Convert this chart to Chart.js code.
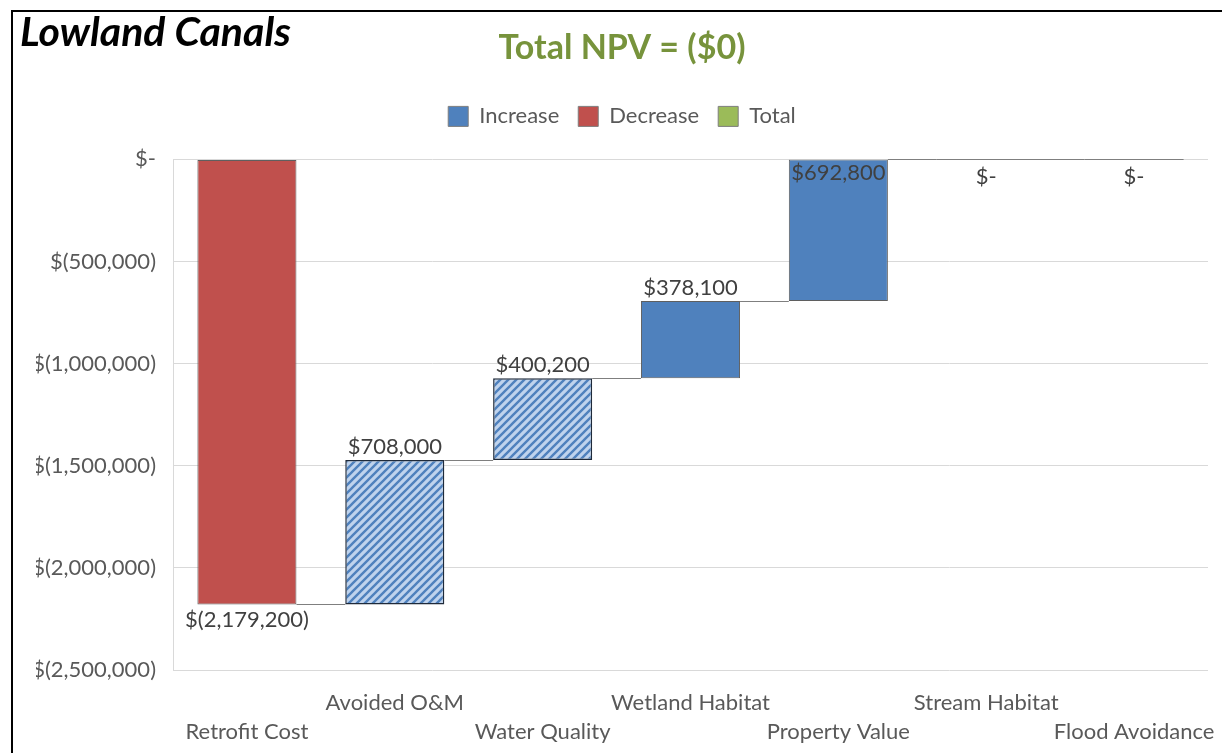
<!DOCTYPE html>
<html>
<head>
<meta charset="utf-8">
<title>Lowland Canals</title>
<script src="https://cdn.jsdelivr.net/npm/chart.js@4.4.1/dist/chart.umd.min.js"></script>
<style>
  html, body { margin: 0; padding: 0; background: #fff; overflow: hidden; }
  #frame { position: absolute; left: 11px; top: 10px; width: 1300px; height: 800px; border-top: 2px solid #000; border-left: 2px solid #000; }
  #wrap { position: absolute; left: 0; top: 0; width: 1222px; height: 753px; }
</style>
</head>
<body>
<div id="frame"></div>
<div id="wrap"><canvas id="chart" width="1222" height="753"></canvas></div>
<script>
// NPV components, in dollars
const categories = ['Retrofit Cost', 'Avoided O&M', 'Water Quality', 'Wetland Habitat', 'Property Value', 'Stream Habitat', 'Flood Avoidance'];
const changes = [-2179200, 708000, 400200, 378100, 692800, 0, 0];
const hatched = [false, true, true, false, false, false, false];

const legendNames = ['Increase', 'Decrease', 'Total'];
const legendColors = ['#4f81bd', '#c0504d', '#9bbb59'];

const yMin = -2500000;
const yMax = 0;
const yStep = 500000;

const barPct = 0.67;
const FONT = 'Lato, "Open Sans", sans-serif';

// running totals for the waterfall
const starts = [];
const ends = [];
let run = 0;
changes.forEach(v => { starts.push(run); run += v; ends.push(run); });

function money(v) {
  v = Math.round(v);
  if (v === 0) return '$-';
  const s = Math.abs(v).toLocaleString('en-US');
  return v < 0 ? '$(' + s + ')' : '$' + s;
}

function npvText(v) {
  const k = Math.round(Math.abs(v) / 1000);
  return v < 0 ? '($' + k + ')' : '$' + k;
}

// diagonal hatch used for the avoided-cost style bars
function makeHatch() {
  const c = document.createElement('canvas');
  const s = 8;
  c.width = s; c.height = s;
  const g = c.getContext('2d');
  g.fillStyle = '#bfd3ed';
  g.fillRect(0, 0, s, s);
  g.strokeStyle = '#4f81bd';
  g.lineWidth = 2.4;
  g.beginPath();
  g.moveTo(-1, s + 1); g.lineTo(s + 1, -1);
  g.moveTo(-2, 2); g.lineTo(2, -2);
  g.moveTo(s - 2, s + 2); g.lineTo(s + 2, s - 2);
  g.stroke();
  return document.getElementById('chart').getContext('2d').createPattern(c, 'repeat');
}
const hatch = makeHatch();

const increaseData = changes.map((v, i) => v >= 0 ? [starts[i], ends[i]] : null);
const decreaseData = changes.map((v, i) => v < 0 ? [starts[i], ends[i]] : null);
const totalData = changes.map(() => null);

// thin lines joining the end of one bar to the start of the next
const connectorLines = {
  id: 'connectorLines',
  afterDatasetsDraw(chart) {
    const { ctx, scales: { x, y } } = chart;
    const half = (x.getPixelForValue(1) - x.getPixelForValue(0)) * barPct / 2;
    ctx.save();
    ctx.strokeStyle = '#7f7f7f';
    ctx.lineWidth = 1;
    ctx.beginPath();
    for (let i = 0; i < categories.length; i++) {
      const level = Math.round(y.getPixelForValue(ends[i])) + 0.5;
      const xa = changes[i] === 0 ? x.getPixelForValue(i) - half : x.getPixelForValue(i) + half;
      const xb = i < categories.length - 1 ? x.getPixelForValue(i + 1) - half : x.getPixelForValue(i) + half;
      if (xb > xa) {
        ctx.moveTo(xa, level);
        ctx.lineTo(xb, level);
      }
    }
    ctx.stroke();
    ctx.restore();
  }
};

// value labels at the end of each bar
const valueLabels = {
  id: 'valueLabels',
  afterDatasetsDraw(chart) {
    const { ctx, chartArea, scales: { x, y } } = chart;
    ctx.save();
    ctx.font = '22px ' + FONT;
    ctx.fillStyle = '#404040';
    ctx.textAlign = 'center';
    ctx.textBaseline = 'middle';
    changes.forEach((v, i) => {
      const cx = x.getPixelForValue(i);
      const yTop = y.getPixelForValue(Math.max(starts[i], ends[i]));
      const yBot = y.getPixelForValue(Math.min(starts[i], ends[i]));
      let ty;
      if (v > 0) {
        ty = yTop - 13;
        if (ty - 11 < chartArea.top) ty = yTop + 13;
      } else if (v < 0) {
        ty = yBot + 15;
      } else {
        ty = yBot + 17;
      }
      ctx.fillText(money(v), cx, ty);
    });
    ctx.restore();
  }
};

// page heading in the top-left corner
const heading = {
  id: 'heading',
  afterDraw(chart) {
    const ctx = chart.ctx;
    ctx.save();
    ctx.font = 'italic bold 41px ' + FONT;
    ctx.fillStyle = '#000';
    ctx.textAlign = 'left';
    ctx.textBaseline = 'alphabetic';
    ctx.fillText('Lowland Canals', 20, 46);
    ctx.restore();
  }
};

// extra room between legend and plot
const legendSpacing = {
  id: 'legendSpacing',
  afterInit(chart) {
    const legend = chart.legend;
    if (!legend) return;
    const fit = legend.fit;
    legend.fit = function () { fit.call(this); this.height += 22; };
  }
};

new Chart(document.getElementById('chart'), {
  type: 'bar',
  data: {
    labels: categories,
    datasets: [
      {
        label: 'Increase',
        data: increaseData,
        backgroundColor: hatched.map(h => h ? hatch : '#4f81bd'),
        borderColor: hatched.map(h => h ? '#1f2a3a' : '#5f5f5f'),
        borderWidth: hatched.map(h => h ? 1.5 : 1),
        borderSkipped: false,
        grouped: false,
        categoryPercentage: 1,
        barPercentage: barPct
      },
      {
        label: 'Decrease',
        data: decreaseData,
        backgroundColor: '#c0504d',
        borderColor: '#5f5f5f',
        borderWidth: 1,
        borderSkipped: false,
        grouped: false,
        categoryPercentage: 1,
        barPercentage: barPct
      },
      {
        label: 'Total',
        data: totalData,
        backgroundColor: '#9bbb59',
        grouped: false,
        categoryPercentage: 1,
        barPercentage: barPct
      }
    ]
  },
  options: {
    responsive: false,
    animation: false,
    layout: {
      padding: { left: 36, right: 14, top: 0, bottom: 6 }
    },
    scales: {
      x: {
        afterFit(scale) {
          scale.height = 77;
          // let the long end labels hang past the plot edges
          scale.paddingLeft = 0;
          scale.paddingRight = 0;
        },
        grid: { display: false, drawTicks: false },
        border: { display: false },
        ticks: {
          autoSkip: false,
          maxRotation: 0,
          minRotation: 0,
          padding: 18,
          color: '#595959',
          font: { family: FONT, size: 22, lineHeight: 1.32 },
          callback: (val, i) => i % 2 === 0 ? ['', categories[i]] : [categories[i], '']
        }
      },
      y: {
        min: yMin,
        max: yMax,
        afterFit(scale) { scale.width = 137; },
        grid: { color: '#d9d9d9', lineWidth: 1, drawTicks: false },
        border: { display: true, color: '#d9d9d9' },
        ticks: {
          stepSize: yStep,
          padding: 17,
          color: '#595959',
          font: { family: FONT, size: 22 },
          callback: v => money(v)
        }
      }
    },
    plugins: {
      title: {
        display: true,
        text: 'Total NPV = ' + npvText(ends[ends.length - 1]),
        color: '#77933c',
        font: { family: FONT, size: 34, weight: 'bold', lineHeight: 1.2 },
        padding: { top: 28, bottom: 17.6 }
      },
      legend: {
        display: true,
        position: 'top',
        labels: {
          boxWidth: 20,
          boxHeight: 20,
          padding: 19,
          color: '#595959',
          font: { family: FONT, size: 22 },
          generateLabels: () => legendNames.map((name, i) => ({
            text: name,
            fillStyle: legendColors[i],
            strokeStyle: '#7f7f7f',
            lineWidth: 1,
            hidden: false,
            datasetIndex: i,
            fontColor: '#595959'
          }))
        }
      },
      tooltip: { enabled: false }
    }
  },
  plugins: [legendSpacing, connectorLines, valueLabels, heading]
});
</script>
</body>
</html>
